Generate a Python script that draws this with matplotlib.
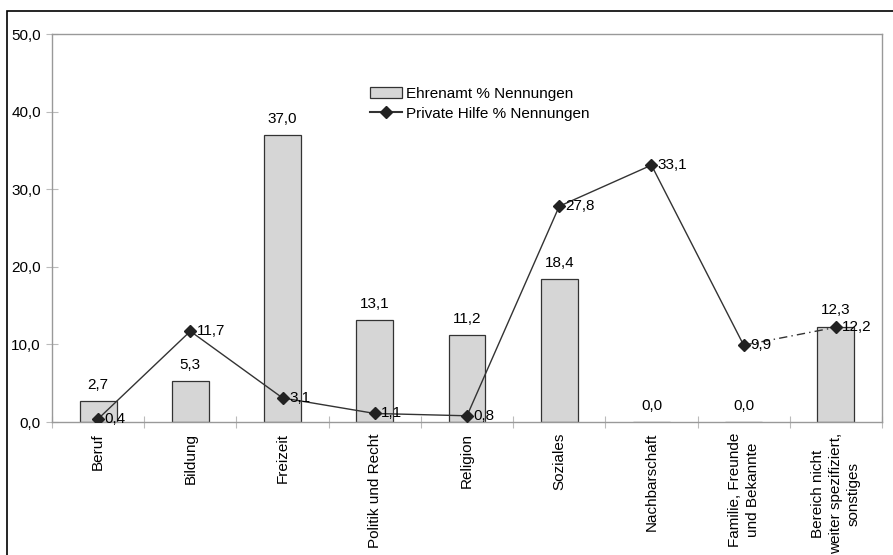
import matplotlib
matplotlib.use("Agg")
import matplotlib.pyplot as plt
from matplotlib.patches import Rectangle
from matplotlib.lines import Line2D

plt.rcParams['font.family'] = ['Liberation Sans', 'DejaVu Sans']

categories = ["Beruf", "Bildung", "Freizeit", "Politik und Recht", "Religion",
              "Soziales", "Nachbarschaft", "Familie, Freunde\nund Bekannte",
              "Bereich nicht\nweiter spezifiziert,\nsonstiges"]
ehrenamt = [2.7, 5.3, 37.0, 13.1, 11.2, 18.4, 0.0, 0.0, 12.3]
private_hilfe = [0.4, 11.7, 3.1, 1.1, 0.8, 27.8, 33.1, 9.9, 12.2]
y_ticks = [0, 10, 20, 30, 40, 50]

FS = 11


def fmt(v):
    return f"{v:.1f}".replace(".", ",")


fig = plt.figure(figsize=(8.93, 5.55), dpi=100)
# outer chart frame
fig.add_artist(Rectangle((7 / 893, -0.1), 1.2, (555 - 11) / 555 + 0.1,
                         transform=fig.transFigure, fill=False,
                         edgecolor="black", linewidth=1.2))

ax = fig.add_axes([52 / 893, (555 - 422) / 555, (882 - 52) / 893, (422 - 34) / 555])
x = list(range(len(categories)))

ax.bar(x, ehrenamt, width=0.4, color="#d6d6d6", edgecolor="#333333",
       linewidth=0.9, zorder=2)
for xi, v in zip(x, ehrenamt):
    ax.text(xi, v + 1.2, fmt(v), ha="center", va="bottom", fontsize=FS)

# line: solid through the first eight points, dash-dot to the last
ax.plot(x[:8], private_hilfe[:8], color="#333333", linewidth=1.0, zorder=3)
ax.plot(x[7:], private_hilfe[7:], color="#333333", linewidth=1.0,
        linestyle=(0, (6, 3, 1, 3)), zorder=3)
ax.plot(x, private_hilfe, linestyle="none", marker="D", markersize=6,
        color="#222222", zorder=4)
for xi, v in zip(x, private_hilfe):
    ax.text(xi + 0.07, v, fmt(v), ha="left", va="center", fontsize=FS, zorder=5)

ax.set_xlim(-0.5, len(categories) - 0.5)
ax.set_ylim(0, 50)
ax.set_yticks(y_ticks)
ax.set_yticklabels([fmt(v) for v in y_ticks], fontsize=FS)
ax.set_xticks(x)
ax.set_xticklabels(categories, rotation=90, ha="center", va="top",
                   fontsize=FS, multialignment="center", linespacing=1.35)
ax.tick_params(axis="x", length=0, pad=8)
ax.set_xticks([i + 0.5 for i in range(-1, len(categories))], minor=True)
ax.tick_params(axis="x", which="minor", direction="inout", length=8,
               color="#bbbbbb", width=0.8)
ax.tick_params(axis="y", direction="inout", length=8, color="#bbbbbb",
               width=0.8, pad=4)
for s in ax.spines.values():
    s.set_color("#999999")
    s.set_linewidth(1.0)

handles = [Rectangle((0, 0), 1, 1, facecolor="#d6d6d6", edgecolor="#333333",
                     linewidth=0.9),
           Line2D([], [], color="#333333", marker="D", markersize=6,
                  markerfacecolor="#222222", markeredgecolor="#222222")]
ax.legend(handles, ["Ehrenamt % Nennungen", "Private Hilfe % Nennungen"],
          loc="upper left", bbox_to_anchor=((362 - 52) / 830, (422 - 79) / 388),
          frameon=False, fontsize=FS, handlelength=2.1, handleheight=0.7,
          handletextpad=0.3, labelspacing=0.4, borderpad=0)

fig.savefig("out.png", dpi=100)
